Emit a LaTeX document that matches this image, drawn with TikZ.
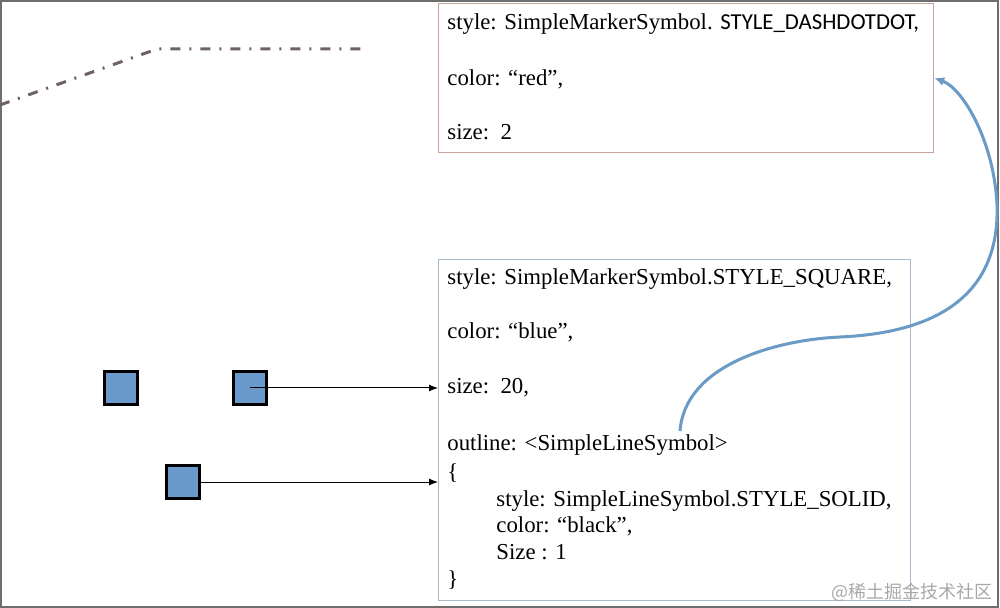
\documentclass[tikz,border=0pt]{standalone}
\usepackage{fontspec}
\setmainfont{Liberation Serif}
\newfontfamily\carlito{Carlito}
\newfontfamily\cjk{Noto Sans CJK SC}
\usetikzlibrary{arrows.meta,positioning,calc}
\definecolor{framegray}{HTML}{6E6E6E}
\definecolor{dashbrown}{HTML}{6E6262}
\definecolor{redline}{HTML}{C4A49C}
\definecolor{blueline}{HTML}{A9BACB}
\definecolor{steel}{HTML}{6A9ACB}
\definecolor{linkblue}{HTML}{6A9AC6}
\definecolor{markgray}{HTML}{A8A8A8}
\tikzset{
  panel/.style={draw, line width=.6pt, inner sep=0pt, anchor=north west},
  codeline/.style={anchor=base west, inner sep=0pt, font=\fontsize{11.4}{13}\selectfont},
  marker/.style={draw=black, fill=steel, line width=1.5pt, minimum size=16.5pt, inner sep=0pt},
  ptr/.style={-{Latex[length=4.5pt,width=3.5pt]}, line width=.5pt},
  link/.style={-{Latex[length=5pt,width=4.5pt]}, draw=linkblue, line width=1.5pt},
  dashdotline/.style={draw=dashbrown, line width=1.5pt,
    dash pattern=on 5pt off 4.5pt on 1pt off 4.5pt}
}

\begin{document}
\begin{tikzpicture}[x=.5pt,y=-.5pt]
  \useasboundingbox (0,0) rectangle (1000,608);
  \draw[framegray, line width=1pt] (1,1) rectangle (998,607);

  % sample line symbol
  \draw[dashdotline] (0,105) -- (157,49) -- (362,49);

  % line symbol properties
  \node[panel, draw=redline, minimum width=247.5pt, minimum height=74.5pt] (linebox) at (438,3) {};
  \node[codeline] (l1) at (447,30) {style: SimpleMarkerSymbol. {\carlito STYLE\_DASHDOTDOT,}};
  \node[codeline] (l2) at (447,86) {color: “red”,};
  \node[codeline] (l3) at (447,140) {size:\ \ 2};

  % marker symbol properties
  \node[panel, draw=blueline, minimum width=236pt, minimum height=170.5pt] (markbox) at (438,259) {};
  \node[codeline] (m1) at (447,285) {style: SimpleMarkerSymbol.STYLE\_SQUARE,};
  \node[codeline] (m2) at (447,339) {color: “blue”,};
  \node[codeline] (m3) at (447,394) {size:\ \ 20,};
  \node[codeline] (m4) at (447,451) {outline: <SimpleLineSymbol>};
  \node[codeline] (m5) at (447,480) {\{};
  \node[codeline] (m6) at (496,506) {style: SimpleLineSymbol.STYLE\_SOLID,};
  \node[codeline] (m7) at (496,532) {color: “black”,};
  \node[codeline] (m8) at (496,559) {Size : 1};
  \node[codeline] (m9) at (447,586) {\}};

  % square markers
  \node[marker] (sq1) at (121,388) {};
  \node[marker] (sq2) at (250,388) {};
  \node[marker] (sq3) at (183,482) {};

  \draw[ptr] (sq2.center) -- (sq2.center -| markbox.west);
  \draw[ptr] (sq3.east) -- (sq3.east -| markbox.west);

  \coordinate (hook) at (680,431);
  \draw[link] (hook) .. controls (685,365) and (775,340) .. (840,337)
    .. controls (930,333) and (1000,300) .. (997,205)
    .. controls (994,140) and (962,88) .. (linebox.east);

  \node[anchor=base east, inner sep=0pt, text=markgray, font=\cjk\fontsize{9}{10}\selectfont] (mark) at (993,598) {@稀土掘金技术社区};
\end{tikzpicture}
\end{document}
